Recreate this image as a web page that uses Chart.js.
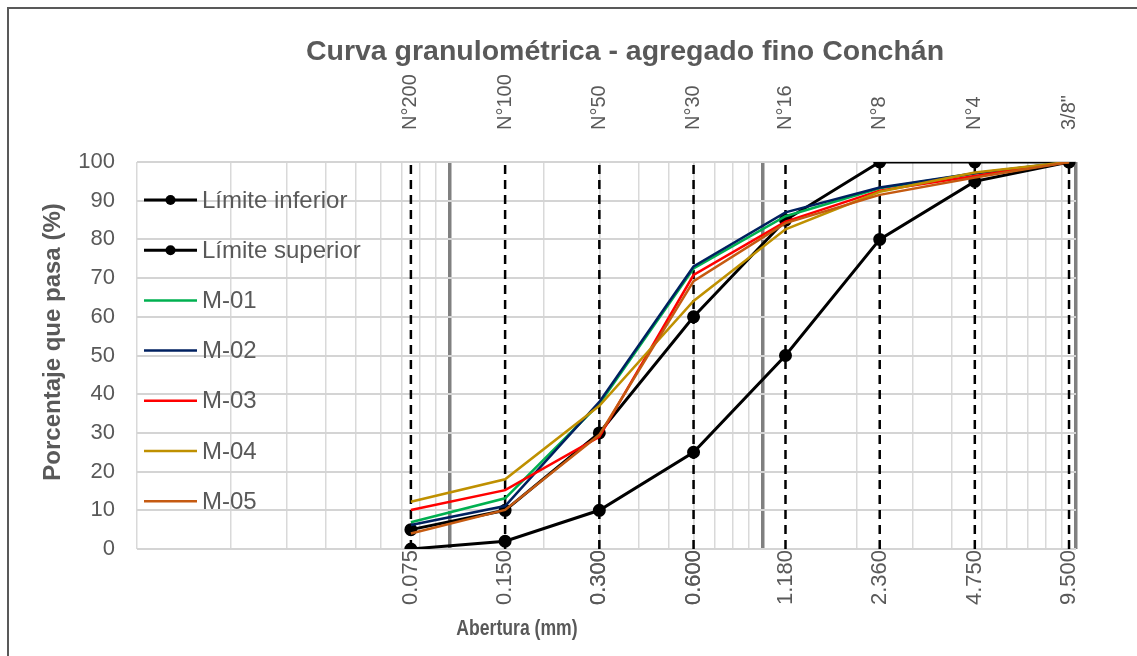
<!doctype html>
<html lang="es">
  <head>
    <meta charset="utf-8">
    <title>Curva granulométrica - agregado fino Conchán</title>
    <style>
      * {
        margin: 0;
        padding: 0;
      }
      body {
        background: white;
      }
      .chartBox {
        width: 1137px;
        height: 656px;
        position: relative;
      }
    </style>
  </head>
  <body>
    <div class="chartBox">
      <canvas id="myChart"></canvas>
    </div>
    <script src="https://cdn.jsdelivr.net/npm/chart.js"></script>
    <script>
    // data
    const sieveSizes = [0.075, 0.150, 0.300, 0.600, 1.180, 2.360, 4.750, 9.500];
    const sizeLabels = ['0.075', '0.150', '0.300', '0.600', '1.180', '2.360', '4.750', '9.500'];
    const sieveNames = ['N°200', 'N°100', 'N°50', 'N°30', 'N°16', 'N°8', 'N°4', '3/8"'];
    const yTicks = [0, 10, 20, 30, 40, 50, 60, 70, 80, 90, 100];

    const limInferior = [0, 2, 10, 25, 50, 80, 95, 100];
    const limSuperior = [5, 10, 30, 60, 85, 100, 100, 100];
    const m01 = [6.9, 13.1, 37.5, 72.5, 86, 93.2, 97, 100];
    const m02 = [6.2, 11.1, 38, 73, 87, 93.4, 97.1, 100];
    const m03 = [10.1, 15.2, 29, 70.8, 84.6, 92.6, 96.4, 100];
    const m04 = [12.2, 18, 37, 64.1, 82.6, 92.3, 97.3, 100];
    const m05 = [4, 10.1, 29.5, 69.2, 84.2, 91.5, 96, 100];

    // log grid (0.01 .. 10)
    const gridTicks = [];
    [0.01, 0.1, 1].forEach(d => {
      for (let k = 1; k <= 9; k++) gridTicks.push(+(d * k).toFixed(4));
    });
    gridTicks.push(10);
    const majorTicks = [0.1, 1, 10];

    const textColor = '#595959';
    const fontFamily = "'Liberation Sans', Arial, sans-serif";
    Chart.defaults.font.family = fontFamily;
    Chart.defaults.color = textColor;

    const pts = arr => arr.map((v, i) => ({x: sieveSizes[i], y: v}));
    const isIn = (list, v) => list.some(t => Math.abs(t - v) < 1e-6);

    const series = [
      {label: 'Límite inferior', data: limInferior, color: '#000000', marker: true},
      {label: 'Límite superior', data: limSuperior, color: '#000000', marker: true},
      {label: 'M-01', data: m01, color: '#00b050', marker: false},
      {label: 'M-02', data: m02, color: '#002060', marker: false},
      {label: 'M-03', data: m03, color: '#ff0000', marker: false},
      {label: 'M-04', data: m04, color: '#bf9000', marker: false},
      {label: 'M-05', data: m05, color: '#c55a11', marker: false}
    ];

    const data = {
      datasets: series.map((s, i) => ({
        label: s.label,
        data: pts(s.data),
        borderColor: s.color,
        backgroundColor: s.color,
        borderWidth: s.marker ? 3 : 2.5,
        pointRadius: s.marker ? 5 : 0,
        pointHoverRadius: s.marker ? 5 : 0,
        tension: 0,
        fill: false,
        order: series.length - i
      }))
    };

    // extra drawing: frame, dashed sieve lines, titles, legend
    const decor = {
      id: 'decor',
      beforeDraw(chart) {
        const ctx = chart.ctx;
        ctx.save();
        ctx.fillStyle = 'white';
        ctx.fillRect(0, 0, chart.width, chart.height);
        ctx.strokeStyle = '#595959';
        ctx.lineWidth = 2;
        ctx.beginPath();
        ctx.moveTo(8, chart.height);
        ctx.lineTo(8, 8);
        ctx.lineTo(chart.width, 8);
        ctx.stroke();
        ctx.restore();
      },
      beforeDatasetsDraw(chart) {
        const {ctx, chartArea, scales: {x}} = chart;
        ctx.save();
        ctx.strokeStyle = '#000';
        ctx.lineWidth = 2.5;
        ctx.setLineDash([9, 6]);
        sieveSizes.forEach(v => {
          const px = x.getPixelForValue(v);
          ctx.beginPath();
          ctx.moveTo(px, chartArea.top + 3);
          ctx.lineTo(px, chartArea.bottom);
          ctx.stroke();
        });
        ctx.restore();
      },
      afterDraw(chart) {
        const {ctx} = chart;
        ctx.save();
        ctx.fillStyle = textColor;
        // title
        ctx.font = 'bold 28.5px ' + fontFamily;
        ctx.textAlign = 'center';
        ctx.textBaseline = 'alphabetic';
        ctx.fillText('Curva granulométrica - agregado fino Conchán', 625, 60);
        // x title (condensed)
        ctx.save();
        ctx.translate(517, 635);
        ctx.scale(0.8, 1);
        ctx.font = 'bold 22px ' + fontFamily;
        ctx.fillText('Abertura (mm)', 0, 0);
        ctx.restore();
        // y title
        ctx.save();
        ctx.translate(53, 342);
        ctx.rotate(-Math.PI / 2);
        ctx.textBaseline = 'middle';
        ctx.font = 'bold 24px ' + fontFamily;
        ctx.fillText('Porcentaje que pasa (%)', 0, 0);
        ctx.restore();
        // legend
        ctx.font = '24px ' + fontFamily;
        ctx.textAlign = 'left';
        ctx.textBaseline = 'middle';
        series.forEach((s, i) => {
          const y = 200 + i * 50.2;
          ctx.strokeStyle = s.color;
          ctx.lineWidth = s.marker ? 3 : 2.5;
          ctx.beginPath();
          ctx.moveTo(144, y);
          ctx.lineTo(197, y);
          ctx.stroke();
          if (s.marker) {
            ctx.fillStyle = s.color;
            ctx.beginPath();
            ctx.arc(170.5, y, 5, 0, Math.PI * 2);
            ctx.fill();
          }
          ctx.fillStyle = textColor;
          ctx.fillText(s.label, 202, y + 1);
        });
        ctx.restore();
      }
    };

    // config
    const config = {
      type: 'line',
      data,
      options: {
        responsive: true,
        maintainAspectRatio: false,
        animation: false,
        layout: {
          padding: {left: 0, right: 61, top: 0, bottom: 0}
        },
        plugins: {
          legend: {display: false},
          title: {display: false},
          tooltip: {enabled: false}
        },
        scales: {
          x: {
            type: 'logarithmic',
            position: 'bottom',
            min: 0.01,
            max: 10,
            afterBuildTicks: scale => {
              const all = gridTicks.concat(sieveSizes).sort((a, b) => a - b);
              scale.ticks = all.map(v => ({value: v}));
            },
            afterFit: scale => { scale.height = 107; },
            ticks: {
              autoSkip: false,
              minRotation: 90,
              maxRotation: 90,
              padding: 1,
              color: textColor,
              font: {size: 22},
              callback: value => {
                const i = sieveSizes.findIndex(t => Math.abs(t - value) < 1e-6);
                return i >= 0 ? sizeLabels[i] : '';
              }
            },
            grid: {
              drawTicks: false,
              color: c => {
                const v = c.tick ? c.tick.value : 0;
                if (isIn(majorTicks, v)) return '#808080';
                if (isIn(gridTicks, v)) return '#d9d9d9';
                return 'rgba(0,0,0,0)';
              },
              lineWidth: c => {
                const v = c.tick ? c.tick.value : 0;
                return isIn(majorTicks, v) ? 3.5 : 1.5;
              }
            },
            border: {display: false}
          },
          xTop: {
            type: 'logarithmic',
            axis: 'x',
            position: 'top',
            min: 0.01,
            max: 10,
            afterBuildTicks: scale => {
              scale.ticks = sieveSizes.map(v => ({value: v}));
            },
            afterFit: scale => { scale.height = 162; },
            ticks: {
              autoSkip: false,
              minRotation: 90,
              maxRotation: 90,
              padding: 32,
              labelOffset: 24,
              color: textColor,
              font: {size: 20},
              callback: (value, index) => sieveNames[index]
            },
            grid: {display: false, drawTicks: false},
            border: {display: false}
          },
          y: {
            min: 0,
            max: 100,
            afterBuildTicks: scale => {
              scale.ticks = yTicks.map(v => ({value: v}));
            },
            afterFit: scale => { scale.width = 137; },
            ticks: {
              padding: 22,
              color: textColor,
              font: {size: 22}
            },
            grid: {
              drawTicks: false,
              color: '#d4d4d4',
              lineWidth: 2
            },
            border: {display: false}
          }
        }
      },
      plugins: [decor]
    };

    // render init block
    const myChart = new Chart(
      document.getElementById('myChart'),
      config
    );
    </script>
  </body>
</html>
